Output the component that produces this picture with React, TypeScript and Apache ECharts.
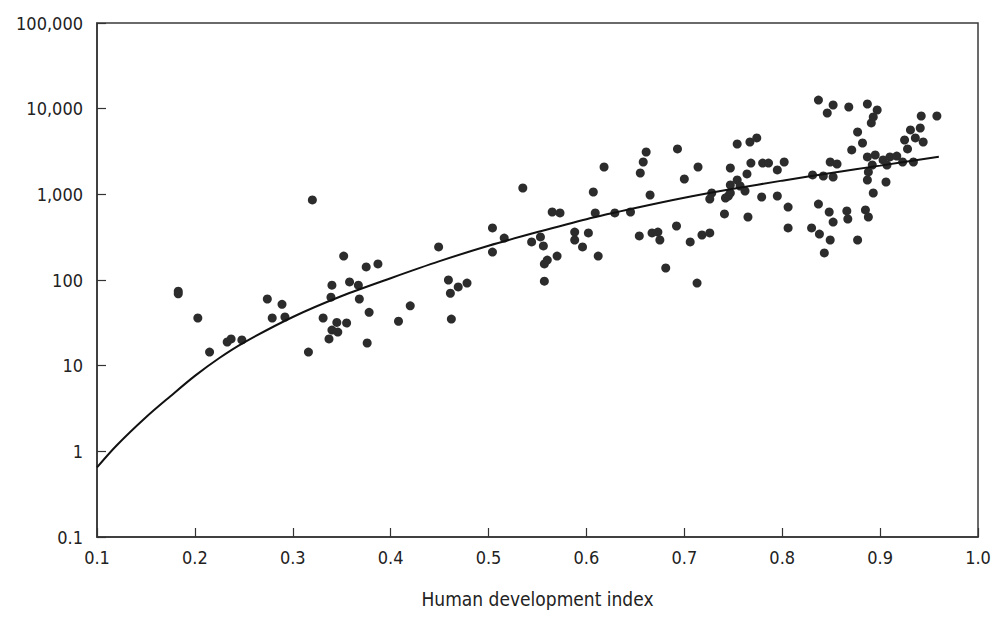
import React, { useEffect, useRef } from "react";
import * as echarts from "echarts";

// Scatter points: [human development index, value]
const lowHdiPoints: [number, number][] = [
  [0.183, 74], [0.183, 69], [0.203, 36], [0.215, 14.4], [0.233, 18.9], [0.237, 20.5],
  [0.248, 20], [0.274, 60], [0.279, 36], [0.289, 52], [0.292, 37], [0.316, 14.4],
  [0.32, 860], [0.331, 36], [0.34, 87], [0.339, 63], [0.345, 32], [0.355, 31.5],
  [0.34, 26], [0.346, 24.7], [0.337, 20.5], [0.352, 190], [0.358, 95], [0.367, 87],
  [0.368, 60], [0.375, 142], [0.378, 42], [0.376, 18.4], [0.387, 154], [0.408, 33],
  [0.42, 50], [0.449, 243], [0.459, 100], [0.461, 70], [0.469, 83], [0.478, 92], [0.462, 35],
];

const midHdiPoints: [number, number][] = [
  [0.504, 405], [0.504, 212], [0.516, 309], [0.535, 1186], [0.544, 278], [0.553, 318],
  [0.556, 250], [0.557, 154], [0.56, 171], [0.57, 190], [0.557, 97], [0.565, 622],
  [0.573, 606], [0.588, 363], [0.588, 293], [0.596, 243], [0.602, 354], [0.612, 190],
  [0.607, 1065], [0.609, 606], [0.618, 2085], [0.629, 606], [0.645, 622], [0.654, 327],
  [0.655, 1775], [0.658, 2385], [0.661, 3120], [0.665, 982], [0.667, 354], [0.673, 363],
  [0.675, 293], [0.681, 138], [0.692, 427], [0.693, 3385], [0.7, 1510], [0.706, 278],
  [0.714, 2085], [0.713, 92], [0.718, 335], [0.726, 354], [0.728, 1037], [0.726, 882],
  [0.742, 906], [0.745, 956], [0.741, 590], [0.747, 2030], [0.754, 3870], [0.767, 4080],
  [0.774, 4550], [0.768, 2320], [0.78, 2320], [0.786, 2320], [0.802, 2385], [0.795, 1925],
  [0.764, 1730], [0.754, 1470], [0.747, 1285], [0.757, 1251], [0.762, 1094], [0.747, 1037],
  [0.779, 931], [0.795, 956], [0.765, 544], [0.806, 711], [0.806, 405],
];

const highHdiPoints: [number, number][] = [
  [0.837, 12600], [0.852, 11040], [0.846, 8900], [0.868, 10460], [0.887, 11340],
  [0.897, 9650], [0.893, 8000], [0.891, 6810], [0.877, 5340], [0.882, 3975], [0.871, 3295],
  [0.849, 2385], [0.856, 2260], [0.831, 1683], [0.842, 1637], [0.852, 1594], [0.837, 770],
  [0.848, 622], [0.852, 475], [0.866, 640], [0.867, 515], [0.885, 657], [0.888, 544],
  [0.83, 405], [0.838, 344], [0.849, 293], [0.843, 207], [0.877, 293], [0.893, 1037],
  [0.906, 1393], [0.887, 1470], [0.888, 1825], [0.892, 2200], [0.887, 2730], [0.895, 2880],
  [0.903, 2520], [0.91, 2730], [0.917, 2800], [0.923, 2385], [0.934, 2385], [0.907, 2200],
  [0.931, 5640], [0.941, 5950], [0.925, 4310], [0.936, 4550], [0.944, 4080], [0.928, 3385],
  [0.942, 8210], [0.958, 8210],
];

// Trend curve
const trendHdi = [0.1, 0.12, 0.15, 0.175, 0.2, 0.225, 0.25, 0.3, 0.35, 0.4, 0.45, 0.5, 0.55, 0.6, 0.65, 0.7, 0.75, 0.8, 0.85, 0.9, 0.96];
const trendValue = [0.65, 1.17, 2.5, 4.4, 7.6, 12.3, 18.6, 37, 65, 105, 166, 251, 363, 513, 692, 912, 1161, 1445, 1778, 2163, 2754];

const xAxisName = "Human development index";

const FONT = "'DejaVu Sans Condensed', 'DejaVu Sans', sans-serif";

export default function App() {
  const ref = useRef<HTMLDivElement>(null);

  useEffect(() => {
    document.body.style.margin = "0";
    if (!ref.current) return;
    const chart = echarts.init(ref.current, undefined, { renderer: "svg" });
    const allPoints = [...lowHdiPoints, ...midHdiPoints, ...highHdiPoints];
    chart.setOption({
      animation: false,
      backgroundColor: "#ffffff",
      grid: {
        left: 97,
        right: 19,
        top: 23,
        bottom: 86,
        show: true,
        borderColor: "#3a3a3a",
        borderWidth: 1.5,
      },
      xAxis: {
        type: "value",
        min: 0.1,
        max: 1.0,
        interval: 0.1,
        name: xAxisName,
        nameLocation: "middle",
        nameGap: 52,
        nameTextStyle: { fontFamily: FONT, fontSize: 19, color: "#222" },
        axisLine: { show: true, lineStyle: { color: "#333", width: 1.5 } },
        axisTick: { show: true, inside: true, length: 9, lineStyle: { color: "#333", width: 1.2 } },
        splitLine: { show: false },
        axisLabel: {
          margin: 11,
          fontFamily: FONT,
          fontSize: 18,
          color: "#222",
          showMinLabel: true,
          showMaxLabel: true,
          formatter: (v: number) => v.toFixed(1),
        },
      },
      yAxis: {
        type: "log",
        logBase: 10,
        min: 0.1,
        max: 100000,
        splitNumber: 6,
        axisLine: { show: true, lineStyle: { color: "#333", width: 1.5 } },
        axisTick: { show: true, inside: true, length: 9, lineStyle: { color: "#333", width: 1.2 } },
        splitLine: { show: false },
        minorTick: { show: false },
        axisLabel: {
          margin: 14,
          fontFamily: FONT,
          fontSize: 18,
          color: "#222",
          showMinLabel: true,
          showMaxLabel: true,
          formatter: (v: number) => {
            const n = Number(v.toPrecision(3));
            return n >= 1 ? n.toLocaleString("en-US") : String(n);
          },
        },
      },
      series: [
        {
          type: "scatter",
          data: allPoints,
          symbol: "circle",
          symbolSize: 9,
          itemStyle: { color: "#2c2c2c", opacity: 1 },
        },
        {
          type: "line",
          data: trendHdi.map((h, i) => [h, trendValue[i]]),
          smooth: 0.3,
          symbol: "none",
          lineStyle: { color: "#111", width: 2 },
          z: 3,
        },
      ],
    });
    return () => chart.dispose();
  }, []);

  return <div ref={ref} style={{ width: 997, height: 623 }} />;
}
